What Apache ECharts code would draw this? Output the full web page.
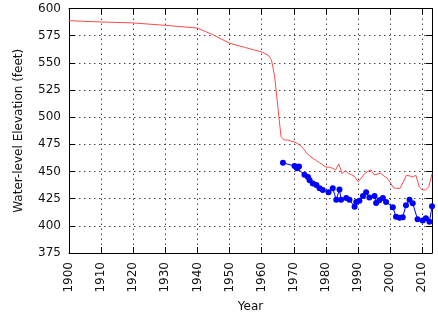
<!DOCTYPE html>
<html><head><meta charset="utf-8">
<script src="https://cdn.jsdelivr.net/npm/echarts@6/dist/echarts.min.js"></script>
<style>html,body{margin:0;padding:0;background:#fff}#c{width:438px;height:320px}</style>
</head><body><div id="c"></div>
<script>
const xTicks = ['1900','1910','1920','1930','1940','1950','1960','1970','1980','1990','2000','2010'];
const yTicks = ['375','400','425','450','475','500','525','550','575','600'];

const redYears = [1900,1910,1920,1930,1940,1945,1950,1955,1960,1962,1963,1964,1965,1966,1967,1968,1969,1970,1971,1972,1973,1974,1975,1976,1977,1978,1979,1980,1981,1982,1983,1984,1985,1986,1987,1988,1989,1990,1991,1992,1993,1994,1995,1996,1997,1998,1999,2000,2001,2002,2003,2004,2005,2006,2007,2008,2009,2010,2011,2012,2013];
const redValues = [588.8,587.6,586.7,584.5,582,575.5,568,564,560,557,553,538,510,482,479,479,478,477.5,476,474,471,467,464,462,460,458,456,454,454,453,451.5,457,448,451,448,447,445,440.5,444,448,450,451.5,447,447.5,448.5,446,444,440,435,434.5,434.5,440,446.5,446,445,446.5,436,433,433,436,448];

const blueYears = [1966.6,1970.2,1971.0,1971.6,1973.3,1974.4,1974.9,1975.9,1977.0,1978.0,1979.0,1980.8,1982.1,1983.2,1984.2,1984.7,1986.3,1987.3,1988.9,1989.4,1990.4,1991.5,1992.5,1993.5,1995.1,1995.6,1996.6,1997.7,1998.7,2000.8,2001.8,2002.9,2003.9,2004.9,2006.0,2007.0,2008.5,2010.1,2011.1,2012.2,2013.0];
const blueValues = [458,455,453,454.5,447,445,442,439,437.5,434.5,433,431,434.5,424,433.5,424,425.5,424,417.5,422,423,427.5,431,426,427.5,421,423.5,425.5,422,417,408.4,407.5,408,419,424,420.7,406,405,406.9,403.8,418];

const xName = 'Year';
const yName = 'Water-level Elevation (feet)';

const font = 'DejaVu Sans';
const xMin = +xTicks[0], xStep = xTicks[1]-xTicks[0];
const yMin = +yTicks[0], yMax = +yTicks[yTicks.length-1], yStep = yTicks[1]-yTicks[0];

const chart = echarts.init(document.getElementById('c'), null, {renderer:'canvas'});
const line = {show:true, onZero:false, lineStyle:{color:'#000', width:1}};
const tick = {show:true, inside:true, length:6, lineStyle:{color:'#000', width:1}};
const grid = {show:true, lineStyle:{color:'#444', width:1, type:[1.5,3.5]}};
chart.setOption({
  animation:false,
  grid:{left:69, top:8.5, right:6, bottom:67, containLabel:false},
  xAxis:[{
    type:'value', min:xMin, max:2013, interval:xStep, position:'bottom',
    axisLine:line, axisTick:tick, splitLine:grid,
    axisLabel:{rotate:90, margin:9, color:'#111', fontFamily:font, fontSize:12,
      formatter:v => (v % xStep === 0 ? String(v) : '')},
    name:xName, nameLocation:'middle', nameGap:48,
    nameTextStyle:{color:'#111', fontFamily:font, fontSize:12}
  },{
    type:'value', min:xMin, max:2013, interval:xStep, position:'top',
    axisLine:line, axisTick:tick, splitLine:{show:false}, axisLabel:{show:false}
  }],
  yAxis:[{
    type:'value', min:yMin, max:yMax, interval:yStep, position:'left',
    axisLine:line, axisTick:tick, splitLine:grid,
    axisLabel:{margin:8, color:'#111', fontFamily:font, fontSize:12},
    name:yName, nameLocation:'middle', nameGap:44,
    nameTextStyle:{color:'#111', fontFamily:font, fontSize:12}
  },{
    type:'value', min:yMin, max:yMax, interval:yStep, position:'right',
    axisLine:line, axisTick:tick, splitLine:{show:false}, axisLabel:{show:false}
  }],
  series:[{
    type:'line', xAxisIndex:0, yAxisIndex:0, showSymbol:false, symbol:'none',
    lineStyle:{color:'#ff4a4a', width:1},
    data:redYears.map((y,i)=>[y, redValues[i]])
  },{
    type:'line', xAxisIndex:0, yAxisIndex:0, symbol:'circle', symbolSize:6, showSymbol:true,
    lineStyle:{color:'#0000ff', width:1}, itemStyle:{color:'#0000ff'},
    data:blueYears.map((y,i)=>[y, blueValues[i]])
  }]
});
</script></body></html>
